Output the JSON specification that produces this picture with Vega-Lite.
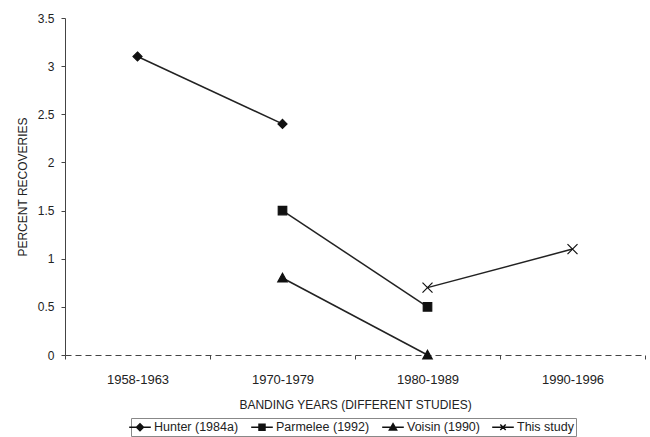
{
  "$schema": "https://vega.github.io/schema/vega-lite/v6.json",
  "width": 580,
  "height": 337,
  "autosize": {"type": "none"},
  "padding": {"left": 65, "top": 18, "right": 5, "bottom": 82},
  "config": {
    "view": {"stroke": null},
    "font": "Liberation Sans",
    "axis": {
      "grid": false,
      "labelFont": "Liberation Sans",
      "titleFont": "Liberation Sans",
      "labelColor": "#222",
      "titleColor": "#222",
      "titleFontWeight": "normal",
      "labelFontSize": 12,
      "titleFontSize": 12,
      "domainColor": "#444",
      "tickColor": "#444"
    },
    "legend": {
      "labelFont": "Liberation Sans",
      "labelFontSize": 12.5,
      "labelColor": "#222"
    }
  },
  "data": {
    "values": [
      {"study": "Hunter (1984a)", "period": "1958-1963", "pct": 3.1},
      {"study": "Hunter (1984a)", "period": "1970-1979", "pct": 2.4},
      {"study": "Parmelee (1992)", "period": "1970-1979", "pct": 1.5},
      {"study": "Parmelee (1992)", "period": "1980-1989", "pct": 0.5},
      {"study": "Voisin (1990)", "period": "1970-1979", "pct": 0.8},
      {"study": "Voisin (1990)", "period": "1980-1989", "pct": 0.0},
      {"study": "This study", "period": "1980-1989", "pct": 0.7},
      {"study": "This study", "period": "1990-1996", "pct": 1.1}
    ]
  },
  "encoding": {
    "x": {
      "field": "period",
      "type": "ordinal",
      "scale": {"type": "band", "domain": ["1958-1963", "1970-1979", "1980-1989", "1990-1996"], "paddingInner": 0, "paddingOuter": 0},
      "axis": {
        "labelAngle": 0,
        "labelFontSize": 13,
        "title": "BANDING YEARS (DIFFERENT STUDIES)",
        "tickBand": "extent",
        "domainDash": [6, 4],
        "tickSize": 4,
        "labelPadding": 14,
        "titlePadding": 13
      }
    },
    "y": {
      "field": "pct",
      "type": "quantitative",
      "scale": {"domain": [0, 3.5], "nice": false},
      "axis": {
        "values": [0, 0.5, 1, 1.5, 2, 2.5, 3, 3.5],
        "format": "~g",
        "title": "PERCENT RECOVERIES",
        "tickSize": 4,
        "labelPadding": 7,
        "titlePadding": 8
      }
    }
  },
  "resolve": {"scale": {"shape": "independent"}},
  "layer": [
    {
      "mark": {"type": "line", "color": "#222", "strokeWidth": 1.5},
      "encoding": {"detail": {"field": "study"}}
    },
    {
      "mark": {"type": "point", "filled": true, "color": "#111", "stroke": "#111", "strokeWidth": 1.2, "opacity": 1, "size": 100},
      "encoding": {
        "shape": {
          "field": "study",
          "type": "nominal",
          "scale": {
            "domain": ["Hunter (1984a)", "Parmelee (1992)", "Voisin (1990)", "This study"],
            "range": [
              "M0,-0.9L0.9,0L0,0.9L-0.9,0Z",
              "M-0.85,-0.85L0.85,-0.85L0.85,0.85L-0.85,0.85Z",
              "M0,-0.95L0.95,0.8L-0.95,0.8Z",
              "M-1,-1L1,1M-1,1L1,-1"
            ]
          },
          "legend": null
        }
      }
    },
    {
      "transform": [{"filter": "datum.pct < -1"}],
      "mark": {"type": "point", "filled": true, "color": "#111", "stroke": "#111", "strokeWidth": 1.3, "opacity": 1},
      "encoding": {
        "shape": {
          "field": "study",
          "type": "nominal",
          "scale": {
            "domain": ["Hunter (1984a)", "Parmelee (1992)", "Voisin (1990)", "This study"],
            "range": [
              "M-1.8,0L1.8,0M0,-0.58L0.58,0L0,0.58L-0.58,0Z",
              "M-1.8,0L1.8,0M-0.5,-0.5L0.5,-0.5L0.5,0.5L-0.5,0.5Z",
              "M-1.8,0L1.8,0M0,-0.6L0.6,0.45L-0.6,0.45Z",
              "M-1.8,0L1.8,0M-0.45,-0.45L0.45,0.45M-0.45,0.45L0.45,-0.45"
            ]
          },
          "legend": {
            "title": null,
            "orient": "none",
            "legendX": 66,
            "legendY": 400,
            "direction": "horizontal",
            "symbolSize": 144,
            "labelOffset": 7,
            "columnPadding": 9,
            "padding": 2,
            "strokeColor": "#888"
          }
        }
      }
    }
  ]
}
